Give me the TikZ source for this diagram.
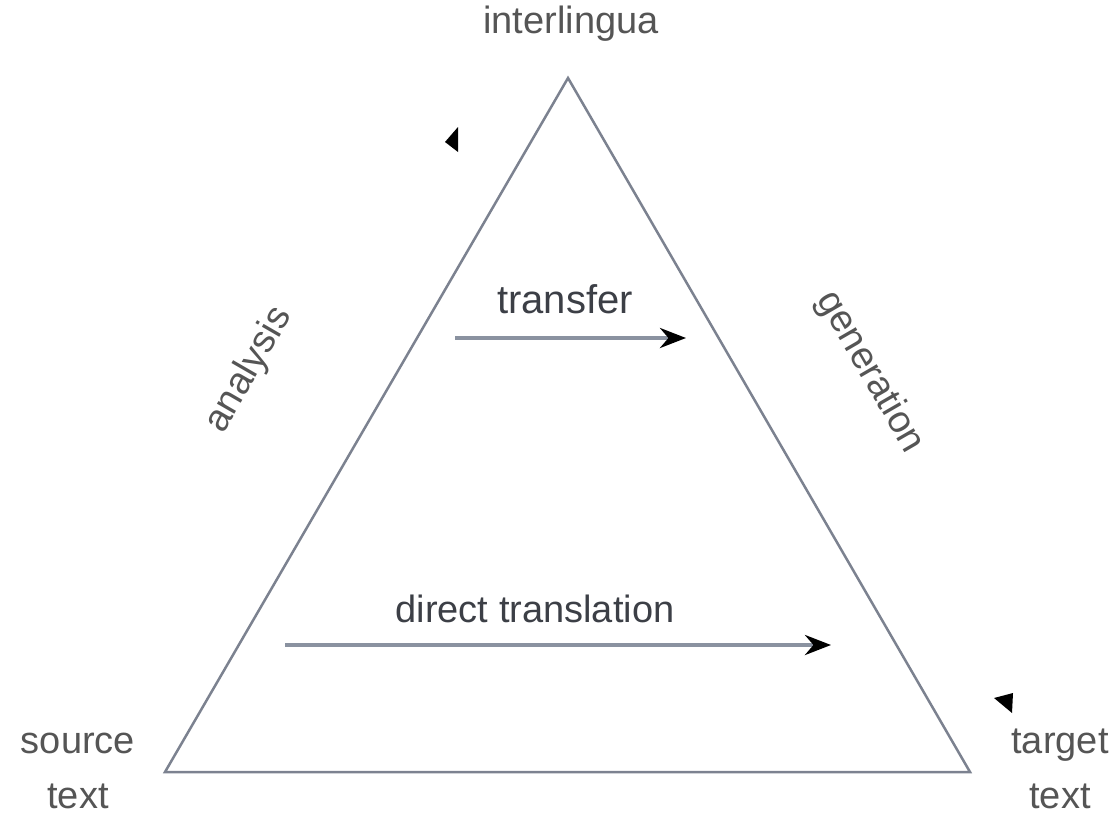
\documentclass[tikz,border=0pt]{standalone}
\usepackage{fontspec}
\setmainfont{Liberation Sans}
\usetikzlibrary{arrows.meta}
\definecolor{edgegray}{HTML}{7C8290}
\definecolor{txtgray}{HTML}{555555}
\definecolor{labdark}{HTML}{3C3F46}
\definecolor{arrgray}{HTML}{8A92A0}
\tikzset{
  lbl/.style={font=\fontsize{38}{55}\selectfont, text=txtgray, inner sep=0pt, align=center},
  arrlbl/.style={font=\fontsize{38}{55}\selectfont, text=labdark, inner sep=0pt, anchor=base},
  side/.style={draw=edgegray, line width=2.5pt, line join=miter},
  flow/.style={draw=arrgray, line width=4pt, -{Stealth[length=26pt,width=20pt,color=black]}},
  stray/.style={fill=black}
}
\begin{document}
\begin{tikzpicture}[x=1pt,y=1pt]
\useasboundingbox (0,0) rectangle (1115,-819);
\coordinate (top) at (568,-78);
\coordinate (bl) at (165,-772);
\coordinate (br) at (970,-772);
\draw[side] (top) -- (br) -- (bl) -- cycle;

\node[lbl] (inter) at (571,-24) {interlingua};
\node[lbl, rotate=60] (analysis) at (249,-370) {analysis};
\node[lbl, rotate=-60] (generation) at (870,-372) {generation};
\node[lbl, anchor=base] (source) at (78,-808) {source\\text};
\node[lbl, anchor=base] (target) at (1060,-808) {target\\text};

\node[arrlbl, font=\fontsize{40}{55}\selectfont] (transfer) at (565,-313) {transfer};
\node[arrlbl] (direct) at (535,-622) {direct translation};

\coordinate (t1) at (455,-338);
\coordinate (t2) at (686,-338);
\coordinate (d1) at (285,-645);
\coordinate (d2) at (831,-645);
\draw[flow] (t1) -- (t2);
\draw[flow] (d1) -- (d2);

\fill[stray] (458,-127) -- (458,-152) -- (445,-142) -- cycle;
\fill[stray] (1013,-693) -- (1012,-713) -- (994,-698) -- cycle;
\end{tikzpicture}
\end{document}
